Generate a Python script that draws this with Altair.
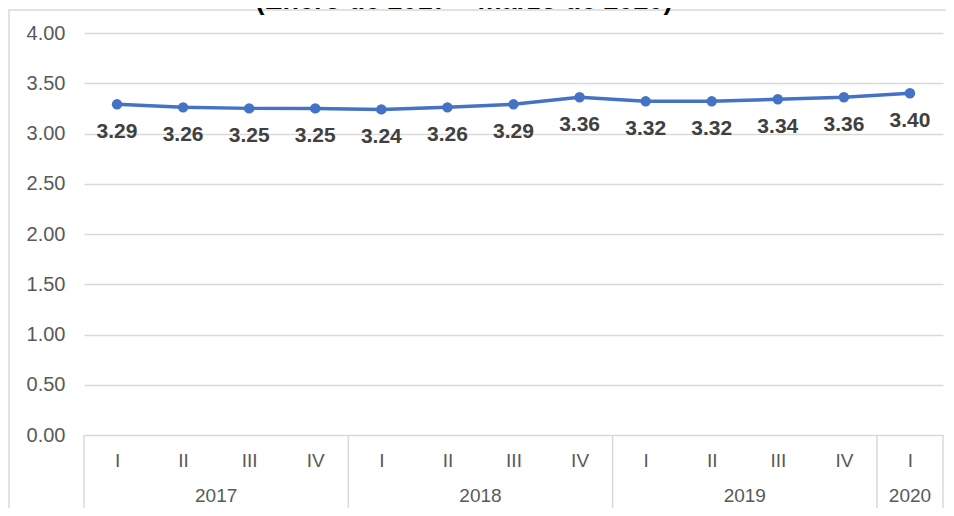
import altair as alt
import pandas as pd

# --- data ---
quarters = ["I", "II", "III", "IV", "I", "II", "III", "IV", "I", "II", "III", "IV", "I"]
years = ["2017"] * 4 + ["2018"] * 4 + ["2019"] * 4 + ["2020"]
values = [3.29, 3.26, 3.25, 3.25, 3.24, 3.26, 3.29, 3.36, 3.32, 3.32, 3.34, 3.36, 3.40]
y_ticks = [0, 0.5, 1, 1.5, 2, 2.5, 3, 3.5, 4]
title_text = "(Enero de 2017 – marzo de 2020)"

FONT = "Liberation Sans"
BLUE = "#4472C4"
GRID = "#d9d9d9"
LABEL = "#595959"

W, H = 859, 402

df = pd.DataFrame({"idx": list(range(len(values))), "q": quarters, "year": years, "v": values})

# year groups: centre positions and boundaries derived from the year list
year_order = list(dict.fromkeys(years))
year_rows = []
bounds = [-0.5]
for yname in year_order:
    ids = [i for i, yy in enumerate(years) if yy == yname]
    year_rows.append({"year": yname, "c": (ids[0] + ids[-1]) / 2})
    bounds.append(ids[-1] + 0.5)
years_df = pd.DataFrame(year_rows)
bounds_df = pd.DataFrame({"b": bounds})

label_array = "[" + ",".join("'%s'" % q for q in quarters) + "]"

xscale = alt.Scale(domain=[-0.5, len(values) - 0.5], nice=False, zero=False)
yscale = alt.Scale(domain=[0, 4], nice=False)

x_enc = alt.X(
    "idx:Q",
    scale=xscale,
    axis=alt.Axis(
        values=list(range(len(values))),
        labelExpr=label_array + "[datum.value]",
        grid=False, ticks=False, domain=False, title=None,
        labelFont=FONT, labelFontSize=19, labelColor=LABEL, labelPadding=16,
    ),
)
y_enc = alt.Y(
    "v:Q",
    scale=yscale,
    axis=alt.Axis(
        values=y_ticks, format=".2f", title=None,
        grid=True, gridColor=GRID, gridWidth=1.5,
        ticks=False, domain=False,
        labelFont=FONT, labelFontSize=20, labelColor=LABEL, labelPadding=19,
    ),
)

base = alt.Chart(df)

line = base.mark_line(color=BLUE, strokeWidth=3.5).encode(x=x_enc, y=y_enc)
pts = base.mark_circle(color=BLUE, size=110, opacity=1).encode(x="idx:Q", y="v:Q")
labels = base.mark_text(
    font=FONT, fontSize=21, fontWeight="bold", color="#404040", dy=28, baseline="middle"
).encode(x="idx:Q", y="v:Q", text=alt.Text("v:Q", format=".2f"))

seps = alt.Chart(bounds_df).mark_rule(color=GRID, strokeWidth=1.5).encode(
    x=alt.X("b:Q", scale=xscale), y=alt.value(H), y2=alt.value(H + 80)
)
year_text = alt.Chart(years_df).mark_text(
    font=FONT, fontSize=19, color=LABEL, baseline="middle"
).encode(x=alt.X("c:Q", scale=xscale), y=alt.value(H + 61), text="year:N")

frame = alt.Chart(years_df.head(1)).mark_rect(
    fill=None, stroke=GRID, strokeWidth=1.5
).encode(x=alt.value(-75), x2=alt.value(W + 20), y=alt.value(-23), y2=alt.value(H + 120))

title = alt.Chart(pd.DataFrame({"t": [title_text]})).mark_text(
    font=FONT, fontSize=27, fontWeight="bold", color="#000000", baseline="alphabetic", align="center"
).encode(x=alt.value(380), y=alt.value(-24), text="t:N")

chart = alt.layer(frame, title, seps, year_text, line, pts, labels).properties(
    width=W, height=H,
    autosize=alt.AutoSizeParams(type="none"),
    padding={"left": 76, "top": 25, "right": 3, "bottom": 73},
).configure_view(stroke=None)

chart.save("out.html", embed_options={"renderer": "svg", "actions": False})
